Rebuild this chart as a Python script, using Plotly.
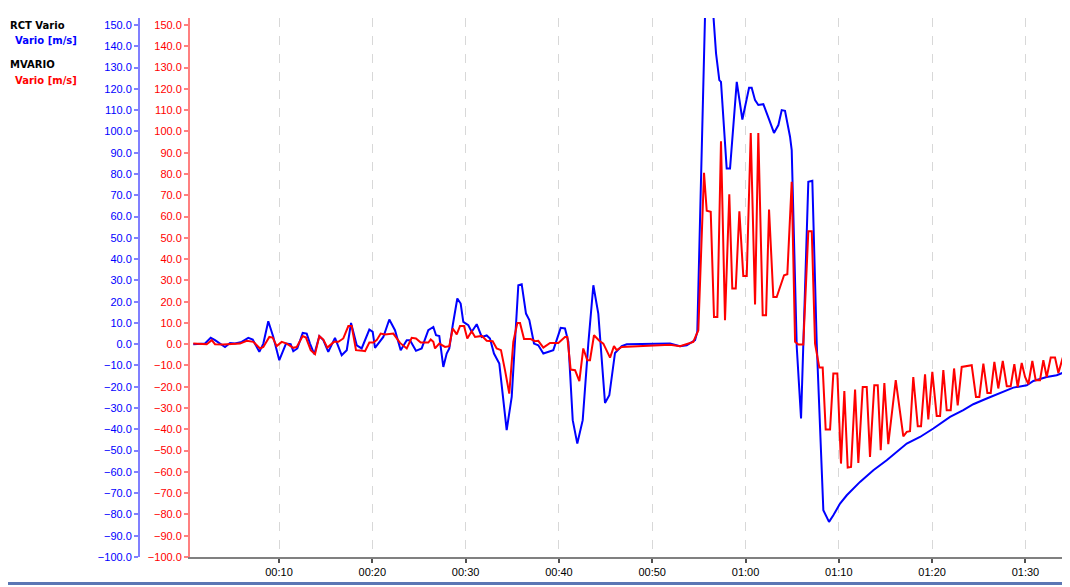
import plotly.graph_objects as go

# RCT Vario (blue), time in seconds, vario in m/s
rct_t = [0.81, 2.07, 2.68, 3.14, 4.21, 4.75, 5.28, 6.0, 6.71, 7.18, 7.89, 8.32, 8.85, 9.39,
         10.03, 10.75, 11.25, 11.53, 11.96, 12.54, 12.97, 13.32, 13.78, 14.32, 14.75, 15.28,
         16.0, 16.72, 17.26, 17.72, 18.33, 18.86, 19.68, 20.04, 20.29, 20.83, 21.18, 21.82,
         22.43, 23.04, 23.69, 24.04, 24.68, 25.29, 26.0, 26.54, 26.83, 27.18, 27.61, 27.97,
         28.25, 28.62, 29.11, 29.47, 29.75, 30.29, 30.65, 31.19, 31.73, 32.26, 32.61, 33.04,
         33.61, 34.4, 34.94, 35.65, 36.01, 36.47, 36.83, 37.33, 37.79, 38.33, 39.4, 40.19,
         40.65, 41.01, 41.48, 41.97, 42.55, 43.15, 43.69, 44.22, 44.94, 45.4, 46.01, 46.73,
         47.27, 51.91, 52.98, 53.7, 54.59, 54.83, 55.66, 56.09, 56.55, 56.84, 57.19, 57.37,
         57.98, 58.34, 59.06, 59.66, 60.38, 60.66, 61.02, 61.37, 61.91, 62.55, 63.05, 63.52,
         63.88, 64.23, 64.77, 64.95, 65.49, 65.95, 66.73, 67.16, 67.63, 68.34, 68.95, 69.41,
         70.13, 70.85, 72.27, 73.7, 75.13, 77.28, 78.7, 80.13, 81.92, 83.34, 84.41, 85.85,
         87.28, 88.7, 90.14, 90.85, 92.28, 93.35, 94.24]
rct_v = [0.0, 0.3, 3.0, 1.9, -1.3, 0.6, 0.3, 1.1, 3.0, 2.2, -3.6, 0.3, 10.8, 3.4,
         -7.5, 0.3, 0.0, -3.3, -2.0, 5.3, 5.0, 0.3, -4.7, 3.8, 1.9, -3.6,
         3.0, -5.2, -2.8, 10.0, -0.5, -2.0, 6.9, 5.8, -1.7, 1.1, 3.4, 11.6,
         6.6, -2.8, 1.9, 1.9, -3.1, -2.0, 6.6, 8.1, 4.2, 3.8, -10.7, -4.4,
         -2.0, 8.9, 21.5, 19.1, 10.5, 8.9, 5.8, 9.4, 3.4, 4.1, 2.7, -4.4,
         -9.1, -40.4, -24.8, 27.7, 28.2, 14.4, 11.3, 0.3, -0.5, -4.4, -2.8, 7.7,
         7.4, 1.1, -35.7, -46.7, -35.7, 0.3, 27.7, 14.4, -27.6, -24.0, -4.1, -0.9,
         0.0, 0.3, -0.9, -0.5, 1.9, 5.8, 154.7, 168.0, 154.7, 136.7, 124.1, 123.3,
         82.6, 82.6, 123.3, 105.6, 120.5, 120.5, 114.7, 112.4, 112.8, 105.3, 99.3, 103.0,
         110.0, 109.7, 97.5, 91.2, -1.3, -34.9, 76.3, 76.8, 0.3, -78.0, -83.5, -80.4,
         -74.9, -71.0, -64.7, -59.2, -54.5, -46.7, -43.6, -39.6, -34.2, -31.0, -28.2, -25.5,
         -22.9, -20.4, -19.3, -17.3, -15.4, -14.6, -13.0]

# MVARIO (red)
mv_t = [0.81, 2.25, 2.79, 3.14, 4.03, 5.82, 6.54, 7.25, 7.96, 8.32, 8.96, 9.32, 9.75,
        10.29, 10.83, 11.53, 11.9, 12.54, 12.89, 13.4, 13.86, 14.32, 14.75, 15.18, 15.89,
        16.36, 16.89, 17.43, 17.79, 18.25, 18.97, 19.22, 19.68, 20.11, 20.47, 20.9, 21.36,
        22.25, 22.97, 23.69, 24.22, 24.68, 25.19, 26.0, 26.26, 26.54, 26.72, 27.18, 27.79,
        28.25, 28.62, 29.05, 29.4, 29.83, 30.18, 30.65, 31.01, 31.73, 32.26, 32.9, 33.33,
        33.79, 34.22, 34.68, 35.11, 35.54, 35.83, 36.26, 36.98, 37.44, 37.79, 38.33, 39.05,
        39.94, 40.65, 40.9, 41.26, 41.73, 42.19, 42.61, 43.04, 43.33, 43.76, 44.33, 44.76,
        45.48, 45.9, 46.19, 46.73, 51.91, 52.98, 53.7, 54.4, 54.94, 55.55, 55.84, 56.27,
        56.62, 56.98, 57.37, 57.8, 58.26, 58.58, 58.95, 59.34, 59.76, 60.13, 60.56, 61.02,
        61.37, 61.84, 62.2, 62.52, 62.98, 63.34, 64.13, 64.48, 64.95, 65.31, 65.66, 66.19,
        66.73, 67.1, 67.45, 67.91, 68.27, 68.59, 69.06, 69.41, 69.84, 70.23, 70.59, 70.95,
        71.31, 71.74, 72.09, 72.56, 72.99, 73.34, 73.8, 74.17, 74.49, 74.88, 75.3, 76.1,
        76.91, 77.28, 77.63, 77.98, 78.46, 78.81, 79.24, 79.59, 80.02, 80.49, 80.85, 81.2,
        81.56, 81.99, 82.35, 82.74, 83.17, 84.24, 84.7, 85.06, 85.49, 85.92, 86.28, 86.67,
        87.09, 87.57, 88.0, 88.42, 88.81, 89.17, 89.6, 89.96, 90.31, 90.74, 91.1, 91.56,
        91.92, 92.28, 92.71, 93.17, 93.53, 94.0, 94.35]
mv_v = [0.3, 0.0, 1.9, 0.0, -0.1, 0.3, 1.6, 1.1, -2.0, -1.3, 3.4, 3.1, -0.9,
        1.1, 0.3, -1.7, -1.3, 3.8, 3.1, -2.8, -4.7, 3.8, 2.2, -1.6, 1.1,
        1.1, 2.7, 8.5, 8.5, -2.8, -3.1, -3.3, 0.8, 0.8, 1.9, 5.0, 4.6,
        5.0, 0.6, -2.0, 3.0, 2.7, 0.8, 0.8, 2.2, 1.1, -2.0, 0.3, -1.3,
        -0.9, 7.4, 4.6, 8.6, 8.6, 2.7, 6.1, 3.4, 3.9, 1.6, 1.4, -2.0,
        -2.8, -12.2, -23.2, 1.1, 10.0, 10.0, 2.4, 2.4, 1.4, 1.6, -1.6, 0.6,
        0.6, 3.4, 3.4, -11.9, -12.2, -17.4, -2.0, -7.5, -7.5, 4.2, 1.6, 0.3,
        -6.3, -0.9, -2.8, -1.3, -0.3, -0.9, 0.0, 1.1, 6.6, 80.5, 62.7, 62.2,
        12.8, 12.8, 95.4, 11.3, 70.4, 26.2, 26.2, 62.5, 32.1, 32.1, 99.3, 18.7,
        99.3, 13.6, 13.6, 63.3, 22.2, 22.2, 32.4, 32.9, 76.3, 1.1, -0.1, -0.1,
        53.1, 53.1, 0.3, -11.0, -11.0, -40.1, -40.1, -13.8, -13.8, -56.1, -22.0, -58.0,
        -57.7, -21.3, -55.8, -20.1, -20.1, -53.0, -19.3, -19.3, -49.8, -18.2, -47.0, -16.9,
        -43.3, -41.2, -40.9, -15.4, -38.6, -38.6, -14.1, -35.4, -13.0, -33.7, -33.7, -12.2,
        -31.0, -31.0, -11.4, -28.7, -10.7, -9.9, -24.8, -24.8, -9.1, -22.9, -22.9, -8.3,
        -20.8, -7.9, -19.7, -19.7, -9.4, -20.1, -8.8, -15.4, -18.8, -7.9, -16.9, -16.9,
        -7.5, -15.4, -6.3, -6.3, -13.5, -6.3, -12.2]

x_ticks = [10, 20, 30, 40, 50, 60, 70, 80, 90]
x_labels = ["00:10", "00:20", "00:30", "00:40", "00:50", "01:00", "01:10", "01:20", "01:30"]

# the page puts the figure 8px in from the top-left corner
OFF = 8
W, H = 1070 - OFF, 587 - OFF
ML, MR, MT, MB = 0, 5, 18 - OFF, 30
PW = W - ML - MR
PH = H - MT - MB


def px(x):
    # page pixel -> paper fraction
    return (x - OFF - ML) / PW


def py(y):
    return (H - MB - (y - OFF)) / PH


tick_font = dict(family="Liberation Sans, Arial, sans-serif", size=11)

fig = go.Figure()
fig.add_trace(go.Scatter(x=rct_t, y=rct_v, mode="lines", name="RCT Vario",
                         line=dict(color="#0000ff", width=2), yaxis="y"))
fig.add_trace(go.Scatter(x=mv_t, y=mv_v, mode="lines", name="MVARIO",
                         line=dict(color="#ff0000", width=2), yaxis="y2"))

yrange = [-100, 153.3]
fig.update_layout(
    width=W, height=H,
    margin=dict(l=ML, r=MR, t=MT, b=MB),
    paper_bgcolor="white", plot_bgcolor="white",
    showlegend=False,
    xaxis=dict(domain=[px(190), 1], range=[0.46, 94.24],
               tickvals=x_ticks, ticktext=x_labels,
               showgrid=True, gridcolor="#d8d8d8", griddash="dash", gridwidth=1,
               showline=True, linecolor="#808080", linewidth=2,
               ticks="outside", ticklen=4, tickcolor="#505050", tickwidth=2,
               tickfont=dict(color="black", **tick_font), zeroline=False),
    yaxis=dict(range=yrange, dtick=10, tick0=0, tickformat=".1f",
               anchor="free", position=px(139), side="left",
               showline=True, linecolor="#8080ff", linewidth=2,
               ticks="outside", ticklen=4, tickcolor="#8080ff", tickwidth=2,
               tickfont=dict(color="#0000ff", **tick_font),
               showgrid=False, zeroline=False),
    yaxis2=dict(range=yrange, dtick=10, tick0=0, tickformat=".1f",
                overlaying="y", anchor="x", side="left",
                showline=True, linecolor="#ff8080", linewidth=2,
                ticks="outside", ticklen=4, tickcolor="#ff8080", tickwidth=2,
                tickfont=dict(color="#ff0000", **tick_font),
                showgrid=False, zeroline=False),
)

# legend labels in the top-left corner
leg_font = "DejaVu Sans, Verdana, sans-serif"
legend_items = [("RCT Vario", "black", 8, 25), ("Vario [m/s]", "#0000ff", 13, 40),
                ("MVARIO", "black", 8, 65), ("Vario [m/s]", "#ff0000", 13, 80)]
for text, color, lx, ly in legend_items:
    fig.add_annotation(x=px(lx), y=py(ly), xref="paper", yref="paper",
                       text="<b>%s</b>" % text, showarrow=False,
                       xanchor="left", yanchor="middle",
                       font=dict(family=leg_font, size=10, color=color))

# window frame (right and bottom edges)
frame = "#5b76b4"
fig.add_shape(type="rect", xref="paper", yref="paper", x0=px(1066), x1=px(1069),
              y0=py(585), y1=py(OFF), fillcolor=frame, line_width=0, layer="above")
fig.add_shape(type="rect", xref="paper", yref="paper", x0=px(OFF), x1=px(1069),
              y0=py(585), y1=py(582), fillcolor=frame, line_width=0, layer="above")

fig.write_html("out.html")
